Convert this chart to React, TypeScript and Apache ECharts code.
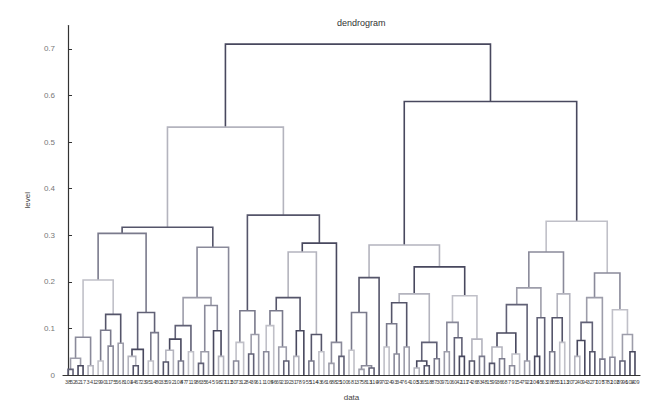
import React, { useEffect, useRef } from "react";
import * as echarts from "echarts";

// ---- data ----
const chartTitle = "dendrogram";
const xName = "data";
const yName = "level";
const yTicks = [0, 0.1, 0.2, 0.3, 0.4, 0.5, 0.6, 0.7];

// leaf labels in dendrogram order
const leafLabels = [
  38, 52, 62, 17, 3, 41, 29, 90, 11, 75,
  56, 8, 101, 44, 67, 23, 95, 14, 80, 33,
  59, 2, 108, 47, 71, 19, 86, 35, 64, 5,
  98, 27, 112, 50, 73, 12, 84, 39, 61, 1,
  105, 46, 69, 21, 92, 31, 78, 9, 55, 114,
  43, 66, 16, 88, 25, 100, 6, 81, 37, 58,
  13, 110, 49, 70, 24, 93, 34, 76, 4, 103,
  53, 65, 18, 87, 30, 97, 10, 60, 42, 111,
  74, 26, 83, 48, 15, 99, 36, 68, 7, 91,
  54, 79, 22, 106, 45, 63, 28, 85, 51, 113,
  20, 72, 40, 94, 32, 77, 107, 57, 82, 102,
  89, 96, 104, 109,
];

// tree: [mergeLevel, left, right]; o = leaf
const o = 0;
const clusterA1: any = [0.317,
  [0.304,
    [0.204,
      [0.081, [0.036, [0.012, o, o], [0.02, o, o]], [0.02, o, o]],
      [0.13, [0.096, [0.03, o, o], [0.062, o, o]], [0.068, o, o]]],
    [0.134, [0.055, [0.04, o, [0.02, o, o]], o], [0.091, [0.03, o, o], o]]],
  [0.274,
    [0.166,
      [0.106, [0.077, [0.053, [0.028, o, o], o], [0.03, o, o]], [0.05, o, o]],
      [0.149, [0.05, [0.025, o, o], o], [0.095, o, [0.04, o, o]]]],
    o]];
const clusterA2: any = [0.343,
  [0.138, [0.07, [0.03, o, o], o], [0.087, [0.045, o, o], o]],
  [0.283,
    [0.264,
      [0.166,
        [0.138, [0.106, [0.05, o, o], o], [0.06, o, [0.03, o, o]]],
        [0.095, [0.04, o, o], o]],
      [0.087, [0.03, o, o], [0.05, o, o]]],
    [0.07, [0.025, o, o], [0.04, o, o]]]];
const clusterB1: any = [0.279,
  [0.209, [0.134, [0.053, o, o], [0.02, [0.012, o, o], [0.015, o, o]]], o],
  [0.232,
    [0.174,
      [0.155, [0.11, [0.06, o, o], [0.045, o, o]], [0.06, o, o]],
      [0.07, [0.03, [0.015, o, o], [0.02, o, o]], [0.035, o, o]]],
    [0.17,
      [0.113, [0.05, o, o], [0.08, o, [0.04, o, o]]],
      [0.077, [0.03, o, o], [0.04, o, o]]]]];
const clusterB2: any = [0.33,
  [0.264,
    [0.187,
      [0.151,
        [0.09, [0.06, [0.025, o, o], [0.035, o, o]], [0.045, [0.02, o, o], o]],
        [0.03, o, o]],
      [0.123, [0.04, o, o], o]],
    [0.174, [0.123, [0.05, o, o], [0.07, o, o]], o]],
  [0.219,
    [0.166, [0.113, [0.074, [0.04, o, o], o], [0.05, o, o]], [0.034, o, o]],
    [0.14, [0.038, o, o], [0.087, [0.03, o, o], [0.05, o, o]]]]];
const rootTree: any = [0.71, [0.532, clusterA1, clusterA2], [0.587, clusterB1, clusterB2]];

const shades = ["#48485e", "#7a7a8c", "#9d9daa", "#b4b4be", "#c0c0c8", "#616176", "#55556a", "#8a8a9a"];

function buildLinks(tree: any) {
  const links: number[][] = [];
  let leaf = 0;
  const walk = (node: any): { x: number; h: number } => {
    if (!Array.isArray(node)) return { x: leaf++, h: 0 };
    const k = links.length;
    links.push([]);
    const L = walk(node[1]);
    const R = walk(node[2]);
    links[k] = [L.x, R.x, L.h, R.h, node[0], (k * 3) % shades.length];
    return { x: (L.x + R.x) / 2, h: node[0] };
  };
  walk(tree);
  return { links, count: leaf };
}

export default function App() {
  const ref = useRef<HTMLDivElement>(null);
  useEffect(() => {
    document.body.style.margin = "0";
    if (!ref.current) return;
    const chart = echarts.init(ref.current, null, { renderer: "svg" });
    const { links, count } = buildLinks(rootTree);
    const font = "Liberation Sans, Arial, sans-serif";
    chart.setOption({
      animation: false,
      backgroundColor: "#ffffff",
      title: {
        text: chartTitle,
        left: 332,
        top: 13,
        textStyle: { fontSize: 9, fontWeight: "normal", color: "#333", fontFamily: font },
      },
      grid: { left: 63, right: 6, top: 25.5, bottom: 28, containLabel: false },
      xAxis: {
        type: "value",
        min: -1,
        max: count,
        interval: 1,
        name: xName,
        nameLocation: "middle",
        nameGap: 18,
        nameTextStyle: { fontSize: 8, color: "#444", fontFamily: font },
        axisLine: { show: true, lineStyle: { color: "#333", width: 1.2 } },
        axisTick: { show: false },
        splitLine: { show: false },
        axisLabel: {
          fontSize: 5.5,
          color: "#444",
          margin: 4,
          fontFamily: font,
          formatter: (v: number) => (leafLabels[v] !== undefined ? String(leafLabels[v]) : ""),
        },
      },
      yAxis: {
        type: "value",
        min: 0,
        max: 0.75,
        name: yName,
        nameLocation: "middle",
        nameGap: 32,
        nameRotate: 90,
        nameTextStyle: { fontSize: 8, color: "#444", fontFamily: font },
        axisLine: { show: true, lineStyle: { color: "#333", width: 1.2 } },
        axisTick: { show: true, inside: true, length: 4, customValues: yTicks, lineStyle: { color: "#333" } },
        splitLine: { show: false },
        axisLabel: {
          customValues: yTicks,
          fontSize: 8,
          color: "#777",
          margin: 8,
          fontFamily: font,
          formatter: (v: number) => String(Math.round(v * 10) / 10),
        },
      },
      series: [
        {
          type: "custom",
          encode: { x: [0, 1], y: [2, 3, 4] },
          data: links,
          renderItem: (params: any, api: any) => {
            const xl = api.value(0);
            const xr = api.value(1);
            const yl = api.value(2);
            const yr = api.value(3);
            const yn = api.value(4);
            const pts = [
              api.coord([xl, yl]),
              api.coord([xl, yn]),
              api.coord([xr, yn]),
              api.coord([xr, yr]),
            ];
            return {
              type: "polyline",
              shape: { points: pts },
              style: { stroke: shades[api.value(5)], lineWidth: 1.6, fill: "none" },
            };
          },
        },
      ],
    });
    return () => chart.dispose();
  }, []);
  return <div ref={ref} style={{ width: 646, height: 406 }} />;
}
